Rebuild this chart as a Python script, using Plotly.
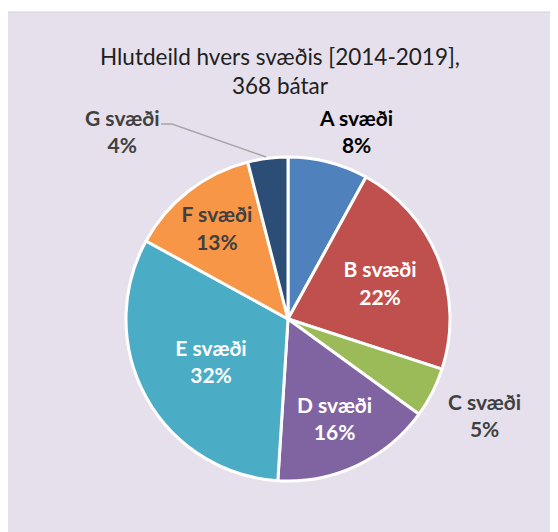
import plotly.graph_objects as go

labels = ["A svæði", "B svæði", "C svæði", "D svæði", "E svæði", "F svæði", "G svæði"]
values = [8, 22, 5, 16, 32, 13, 4]
colors = ["#4F81BD", "#C0504D", "#9BBB59", "#8064A2", "#4BACC6", "#F79646", "#2C4D75"]
text_pos = ["none", "inside", "none", "inside", "inside", "inside", "none"]
text_colors = ["#000000", "#FFFFFF", "#404040", "#FFFFFF", "#FFFFFF", "#404040", "#404040"]
title_text = "Hlutdeild hvers svæðis [2014-2019],<br>368 bátar"

OFF = 8  # browser body margin
W, H = 558 - OFF, 532 - OFF
FONT = "Lato"

def px(x):
    return (x - OFF) / W

def py(y):
    return 1 - (y - OFF) / H

fig = go.Figure(go.Pie(
    labels=labels,
    values=values,
    sort=False,
    direction="clockwise",
    rotation=0,
    marker=dict(colors=colors, line=dict(color="white", width=3)),
    texttemplate="<b>%{label}<br>%{percent:.0%}</b>",
    textposition=text_pos,
    insidetextorientation="horizontal",
    insidetextfont=dict(family=FONT, size=21, color=text_colors),
    showlegend=False,
    hoverinfo="label+percent",
    domain=dict(x=[px(126), px(450)], y=[py(481), py(157)]),
))

# outside labels (A, C, G)
outside = {0: (356, 131), 2: (484, 415), 6: (122, 131)}
annotations = []
total = sum(values)
for i, (x, y) in outside.items():
    pct = round(values[i] / total * 100)
    annotations.append(dict(
        x=px(x), y=py(y), xref="paper", yref="paper",
        xanchor="center", yanchor="middle",
        text=f"<b>{labels[i]}<br>{pct}%</b>",
        showarrow=False, align="center",
        font=dict(family=FONT, size=21, color=text_colors[i]),
    ))

fig.update_layout(
    width=W, height=H,
    margin=dict(l=0, r=0, t=0, b=0),
    paper_bgcolor="white",
    plot_bgcolor="white",
    font=dict(family=FONT),
    title=dict(text=title_text, x=px(280), xanchor="center", y=py(65), yanchor="middle",
               font=dict(family=FONT, size=22.5, color="#202020")),
    annotations=annotations,
    shapes=[
        dict(type="rect", xref="paper", yref="paper", x0=px(7), x1=1.01, y0=-0.01, y1=py(12),
             fillcolor="#E6E0EC", line=dict(color="#D0D0D0", width=1), layer="below"),
        dict(type="path", xref="paper", yref="paper",
             path=f"M {px(161)},{py(124)} L {px(172)},{py(124)} L {px(266)},{py(157)}",
             line=dict(color="#A6A6A6", width=1.5)),
    ],
)

fig.write_html("out.html")
